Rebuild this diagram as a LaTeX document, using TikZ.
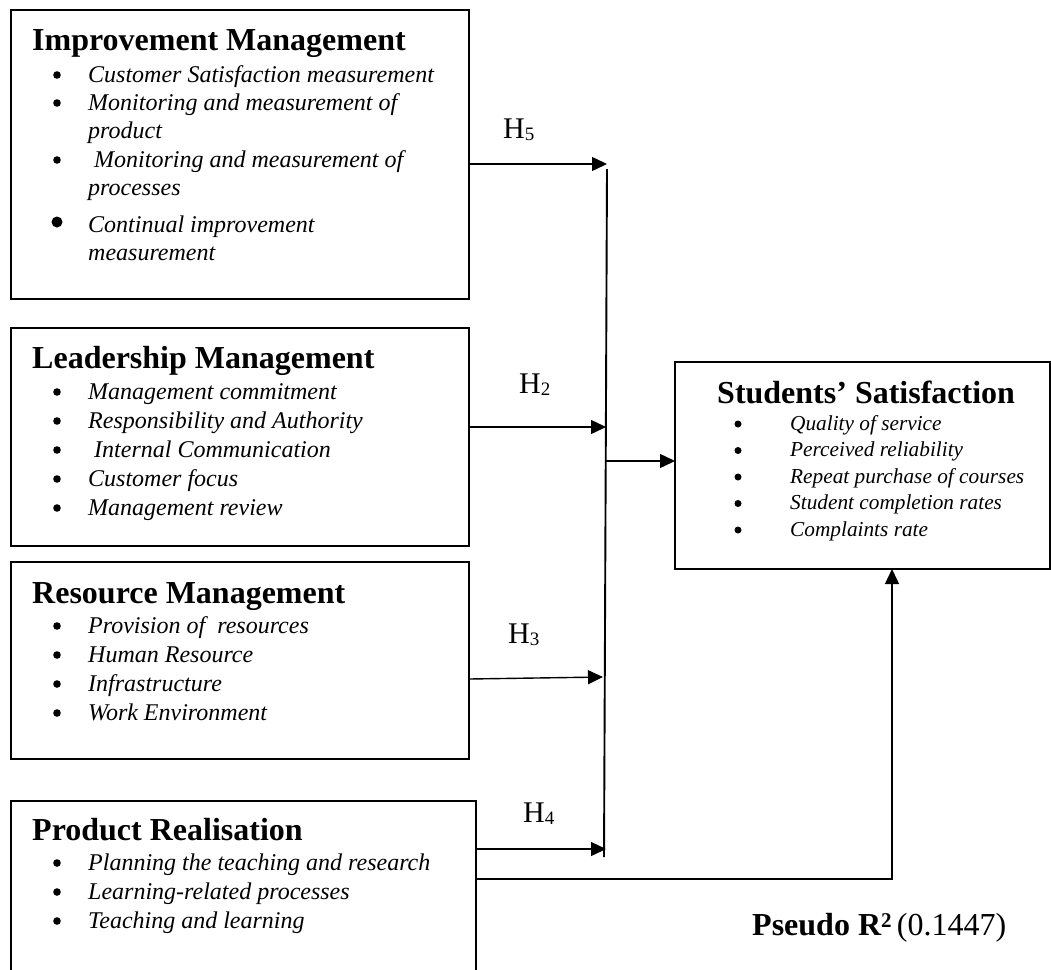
\documentclass[tikz,border=0pt]{standalone}
\usepackage{fontspec}
\setmainfont{Liberation Serif}
\usetikzlibrary{arrows.meta}

% smaller, slightly lowered index digit used in the hypothesis labels
\newcommand\hidx[1]{{\fontsize{19}{19}\selectfont\raisebox{-2.5pt}{#1}}}

\tikzset{
  box/.style={draw, line width=1.7pt, inner sep=0pt, outer sep=0pt, rectangle},
  ttl/.style={anchor=base west, inner sep=0pt, font=\fontsize{32}{38}\selectfont\bfseries},
  itm/.style={anchor=base west, inner sep=0pt, font=\fontsize{24}{28}\selectfont\itshape},
  bul/.style={circle, fill, inner sep=0pt, minimum size=7.6pt},
  bigbul/.style={circle, fill, inner sep=0pt, minimum size=11pt},
  sitm/.style={anchor=base west, inner sep=0pt, font=\fontsize{21.3}{26}\selectfont\itshape},
  sbul/.style={circle, fill, inner sep=0pt, minimum size=7pt},
  hlab/.style={anchor=base west, inner sep=0pt, font=\fontsize{30}{34}\selectfont},
  arr/.style={line width=1.4pt, -{Triangle[length=15pt,width=14pt]}},
  bus/.style={line width=1.9pt}
}

\begin{document}
\begin{tikzpicture}[x=1pt, y=-1pt]
\useasboundingbox (0,0) rectangle (1051,969);
\clip (0,0) rectangle (1051,969);

% ---------------- construct boxes ----------------
\node[box, minimum width=458pt, minimum height=289pt] (imp)  at (240,154.5) {};
\node[box, minimum width=458pt, minimum height=218pt] (lead) at (240,437) {};
\node[box, minimum width=458pt, minimum height=197pt] (res)  at (240,660.5) {};
\node[box, minimum width=465pt, minimum height=220pt] (prod) at (243.5,911) {};
\node[box, minimum width=375pt, minimum height=207pt] (sat)  at (862.5,465.5) {};

% ---------------- Improvement Management ----------------
\node[ttl] (impT) at (32,50) {Improvement Management};
\node[bul] (impB1) at (57,75)  {};
\node[itm] (impI1) at (88,82)  {Customer Satisfaction measurement};
\node[bul] (impB2) at (57,103) {};
\node[itm] (impI2) at (88,110) {Monitoring and measurement of};
\node[itm] (impI2b) at (88,138) {product};
\node[bul] (impB3) at (57,160) {};
\node[itm] (impI3) at (94,167) {Monitoring and measurement of};
\node[itm] (impI3b) at (88,195) {processes};
\node[bigbul] (impB4) at (57,222) {};
\node[itm] (impI4) at (88,232) {Continual improvement};
\node[itm] (impI4b) at (88,260) {measurement};

% ---------------- Leadership Management ----------------
\node[ttl] (leadT) at (32,368) {Leadership Management};
\foreach \t/\dx [count=\k] in {Management commitment/0, Responsibility and Authority/0,
    Internal Communication/6, Customer focus/0, Management review/0}{
  \node[bul] (leadB\k) at (57,{392+29*(\k-1)}) {};
  \node[itm] (leadI\k) at ({88+\dx},{399+29*(\k-1)}) {\t};
}

% ---------------- Resource Management ----------------
\node[ttl] (resT) at (32,603) {Resource Management};
\foreach \t [count=\k] in {Provision of~ resources, Human Resource, Infrastructure, Work Environment}{
  \node[bul] (resB\k) at (57,{626+29*(\k-1)}) {};
  \node[itm] (resI\k) at (88,{633+29*(\k-1)}) {\t};
}

% ---------------- Product Realisation ----------------
\node[ttl] (prodT) at (32,840) {Product Realisation};
\foreach \t [count=\k] in {Planning the teaching and research, Learning-related processes, Teaching and learning}{
  \node[bul] (prodB\k) at (57,{863+29*(\k-1)}) {};
  \node[itm] (prodI\k) at (88,{870+29*(\k-1)}) {\t};
}

% ---------------- Students' Satisfaction ----------------
\node[ttl] (satT) at (717,403) {Students’ Satisfaction};
\foreach \t [count=\k] in {Quality of service, Perceived reliability, Repeat purchase of courses,
    Student completion rates, Complaints rate}{
  \node[sbul] (satB\k) at (738,{424+26.5*(\k-1)}) {};
  \node[sitm] (satI\k) at (790,{430+26.5*(\k-1)}) {\t};
}

% ---------------- hypothesis labels ----------------
\node[hlab] (h5) at (503,138) {H\hidx{5}};
\node[hlab] (h2) at (519,393) {H\hidx{2}};
\node[hlab] (h3) at (508,643) {H\hidx{3}};
\node[hlab] (h4) at (523,822) {H\hidx{4}};

% ---------------- connectors ----------------
\coordinate (busTop) at (607,169);
\coordinate (busBot) at (604,857);
\coordinate (j5) at (607,164);
\coordinate (j2) at (606,427);
\coordinate (j3) at (603,677);
\coordinate (j4) at (606,849);
\coordinate (jOut) at (606,461);
\coordinate (corner) at (892,879);

\draw[bus] (busTop) -- (busBot);
\draw[arr] (imp.east |- j5) -- (j5);
\draw[arr] (lead.east |- j2) -- (j2);
\draw[arr] (res.east |- 0,679) -- (j3);
\draw[arr] (prod.east |- j4) -- (j4);
\draw[arr] (jOut) -- (sat.west |- jOut);
\draw[arr] (prod.east |- corner) -- (corner) -- (sat.south -| corner);

% ---------------- fit statistic ----------------
\node[anchor=base west, inner sep=0pt, font=\fontsize{32}{38}\selectfont] (r2) at (752,935)
  {\textbf{Pseudo R{\fontsize{21}{21}\selectfont\raisebox{8pt}{2}}}\,(0.1447)};
\end{tikzpicture}
\end{document}
